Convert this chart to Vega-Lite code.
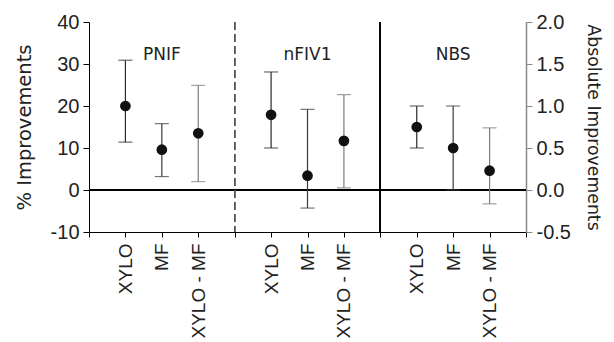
{
  "$schema": "https://vega.github.io/schema/vega-lite/v6.json",
  "autosize": {"type": "none"},
  "width": 437,
  "height": 210,
  "padding": {"left": 89, "top": 22, "right": 88, "bottom": 110},
  "background": "white",
  "config": {
    "view": {"stroke": null},
    "axis": {
      "grid": false,
      "labelFont": "Liberation Sans",
      "labelFontSize": 20,
      "labelColor": "#222",
      "titleFont": "DejaVu Sans",
      "titleFontWeight": "normal",
      "titleColor": "#222",
      "domainColor": "#000",
      "tickColor": "#000",
      "tickSize": 6
    },
    "axisX": {
      "labelOverlap": false,
      "labelAngle": 270,
      "labelAlign": "right",
      "labelBaseline": "middle",
      "labelPadding": 6,
      "labelFontSize": 19,
      "tickSize": 5,
      "labelFlush": false
    }
  },
  "datasets": {
    "pts": [
      {"panel": "PNIF", "label": "XYLO", "pos": 1, "val": 20.0, "lo": 11.4, "hi": 30.9, "abs": 1.0},
      {"panel": "PNIF", "label": "MF", "pos": 2, "val": 9.6, "lo": 3.2, "hi": 15.8, "abs": 0.48},
      {"panel": "PNIF", "label": "XYLO - MF", "pos": 3, "val": 13.5, "lo": 2.0, "hi": 24.9, "abs": 0.675},
      {"panel": "nFIV1", "label": "XYLO", "pos": 5, "val": 17.9, "lo": 10.0, "hi": 28.1, "abs": 0.895},
      {"panel": "nFIV1", "label": "MF", "pos": 6, "val": 3.4, "lo": -4.3, "hi": 19.2, "abs": 0.17},
      {"panel": "nFIV1", "label": "XYLO - MF", "pos": 7, "val": 11.7, "lo": 0.5, "hi": 22.7, "abs": 0.585},
      {"panel": "NBS", "label": "XYLO", "pos": 9, "val": 15.0, "lo": 10.0, "hi": 20.0, "abs": 0.75},
      {"panel": "NBS", "label": "MF", "pos": 10, "val": 10.0, "lo": 0.0, "hi": 20.0, "abs": 0.5},
      {"panel": "NBS", "label": "XYLO - MF", "pos": 11, "val": 4.6, "lo": -3.3, "hi": 14.8, "abs": 0.23}
    ],
    "panels": [
      {"panel": "PNIF", "pos": 2},
      {"panel": "nFIV1", "pos": 6},
      {"panel": "NBS", "pos": 10}
    ]
  },
  "layer": [
    {
      "layer": [
        {
          "data": {"name": "pts"},
          "mark": {"type": "rule", "color": "#000", "strokeWidth": 1},
          "encoding": {"y": {"datum": 0, "type": "quantitative"}}
        },
        {
          "data": {"name": "pts"},
          "mark": {"type": "rule", "color": "#555", "strokeWidth": 1, "strokeDash": [8, 4]},
          "encoding": {
            "x": {
              "datum": 4,
              "type": "quantitative",
              "axis": {
                "title": null,
                "values": [0, 1, 2, 3, 4, 5, 6, 7, 8, 9, 10, 11, 12],
                "labelExpr": "datum.value % 4 == 1 ? 'XYLO' : datum.value % 4 == 2 ? 'MF' : datum.value % 4 == 3 ? 'XYLO - MF' : ''",
                "labelOverlap": false
              }
            }
          }
        },
        {
          "data": {"name": "pts"},
          "mark": {"type": "rule", "color": "#000", "strokeWidth": 1.2},
          "encoding": {
            "x": {
              "datum": 8,
              "type": "quantitative",
              "axis": {
                "title": null,
                "values": [0, 1, 2, 3, 4, 5, 6, 7, 8, 9, 10, 11, 12],
                "labelExpr": "datum.value % 4 == 1 ? 'XYLO' : datum.value % 4 == 2 ? 'MF' : datum.value % 4 == 3 ? 'XYLO - MF' : ''",
                "labelOverlap": false
              }
            }
          }
        },
        {
          "data": {"name": "pts"},
          "mark": {"type": "errorbar", "ticks": {"size": 14}, "thickness": 1.2},
          "encoding": {
            "x": {
              "field": "pos",
              "type": "quantitative",
              "title": null,
              "scale": {"domain": [0, 12], "nice": false, "zero": false},
              "axis": {
                "title": null,
                "values": [0, 1, 2, 3, 4, 5, 6, 7, 8, 9, 10, 11, 12],
                "labelExpr": "datum.value % 4 == 1 ? 'XYLO' : datum.value % 4 == 2 ? 'MF' : datum.value % 4 == 3 ? 'XYLO - MF' : ''",
                "labelOverlap": false
              }
            },
            "y": {
              "field": "lo",
              "type": "quantitative",
              "title": "% Improvements",
              "scale": {"domain": [-10, 40], "nice": false, "zero": false},
              "axis": {
                "title": "% Improvements",
                "values": [-10, 0, 10, 20, 30, 40],
                "labelExpr": "replace(datum.label, '\u2212', '-')",
                "titleFontSize": 19.5,
                "titlePadding": 16,
                "labelPadding": 4
              }
            },
            "y2": {"field": "hi"},
            "color": {
              "field": "label",
              "type": "nominal",
              "legend": null,
              "scale": {"domain": ["XYLO", "MF", "XYLO - MF"], "range": ["#2a2a2a", "#3a3a3a", "#7a7a7a"]}
            }
          }
        },
        {
          "data": {"name": "pts"},
          "mark": {"type": "circle", "size": 115, "color": "#111", "opacity": 1},
          "encoding": {
            "x": {
              "field": "pos",
              "type": "quantitative",
              "title": null,
              "axis": {
                "title": null,
                "values": [0, 1, 2, 3, 4, 5, 6, 7, 8, 9, 10, 11, 12],
                "labelExpr": "datum.value % 4 == 1 ? 'XYLO' : datum.value % 4 == 2 ? 'MF' : datum.value % 4 == 3 ? 'XYLO - MF' : ''",
                "labelOverlap": false
              }
            },
            "y": {"field": "val", "type": "quantitative", "title": "% Improvements"}
          }
        },
        {
          "data": {"name": "panels"},
          "mark": {"type": "text", "font": "DejaVu Sans", "fontSize": 17, "color": "#222", "baseline": "middle", "align": "center"},
          "encoding": {
            "x": {
              "field": "pos",
              "type": "quantitative",
              "title": null,
              "axis": {
                "title": null,
                "values": [0, 1, 2, 3, 4, 5, 6, 7, 8, 9, 10, 11, 12],
                "labelExpr": "datum.value % 4 == 1 ? 'XYLO' : datum.value % 4 == 2 ? 'MF' : datum.value % 4 == 3 ? 'XYLO - MF' : ''",
                "labelOverlap": false
              }
            },
            "y": {"datum": 32.2, "type": "quantitative"},
            "text": {"field": "panel"}
          }
        }
      ]
    },
    {
      "data": {"name": "pts"},
      "mark": {"type": "point", "opacity": 0},
      "encoding": {
        "x": {
          "field": "pos",
          "type": "quantitative",
          "title": null,
          "axis": {
            "title": null,
            "values": [0, 1, 2, 3, 4, 5, 6, 7, 8, 9, 10, 11, 12],
            "labelExpr": "datum.value % 4 == 1 ? 'XYLO' : datum.value % 4 == 2 ? 'MF' : datum.value % 4 == 3 ? 'XYLO - MF' : ''",
            "labelOverlap": false
          }
        },
        "y": {
          "field": "abs",
          "type": "quantitative",
          "scale": {"domain": [-0.5, 2.0], "nice": false, "zero": false},
          "axis": {
            "orient": "right",
            "title": "Absolute Improvements",
            "values": [-0.5, 0, 0.5, 1.0, 1.5, 2.0],
            "format": ".1f",
            "labelExpr": "replace(datum.label, '\u2212', '-')",
            "titleFontSize": 17.3,
            "titlePadding": 13,
            "labelPadding": 4,
            "domainColor": "#888",
            "tickColor": "#888",
            "domainWidth": 1.5
          }
        }
      }
    }
  ],
  "resolve": {"scale": {"y": "independent"}}
}
